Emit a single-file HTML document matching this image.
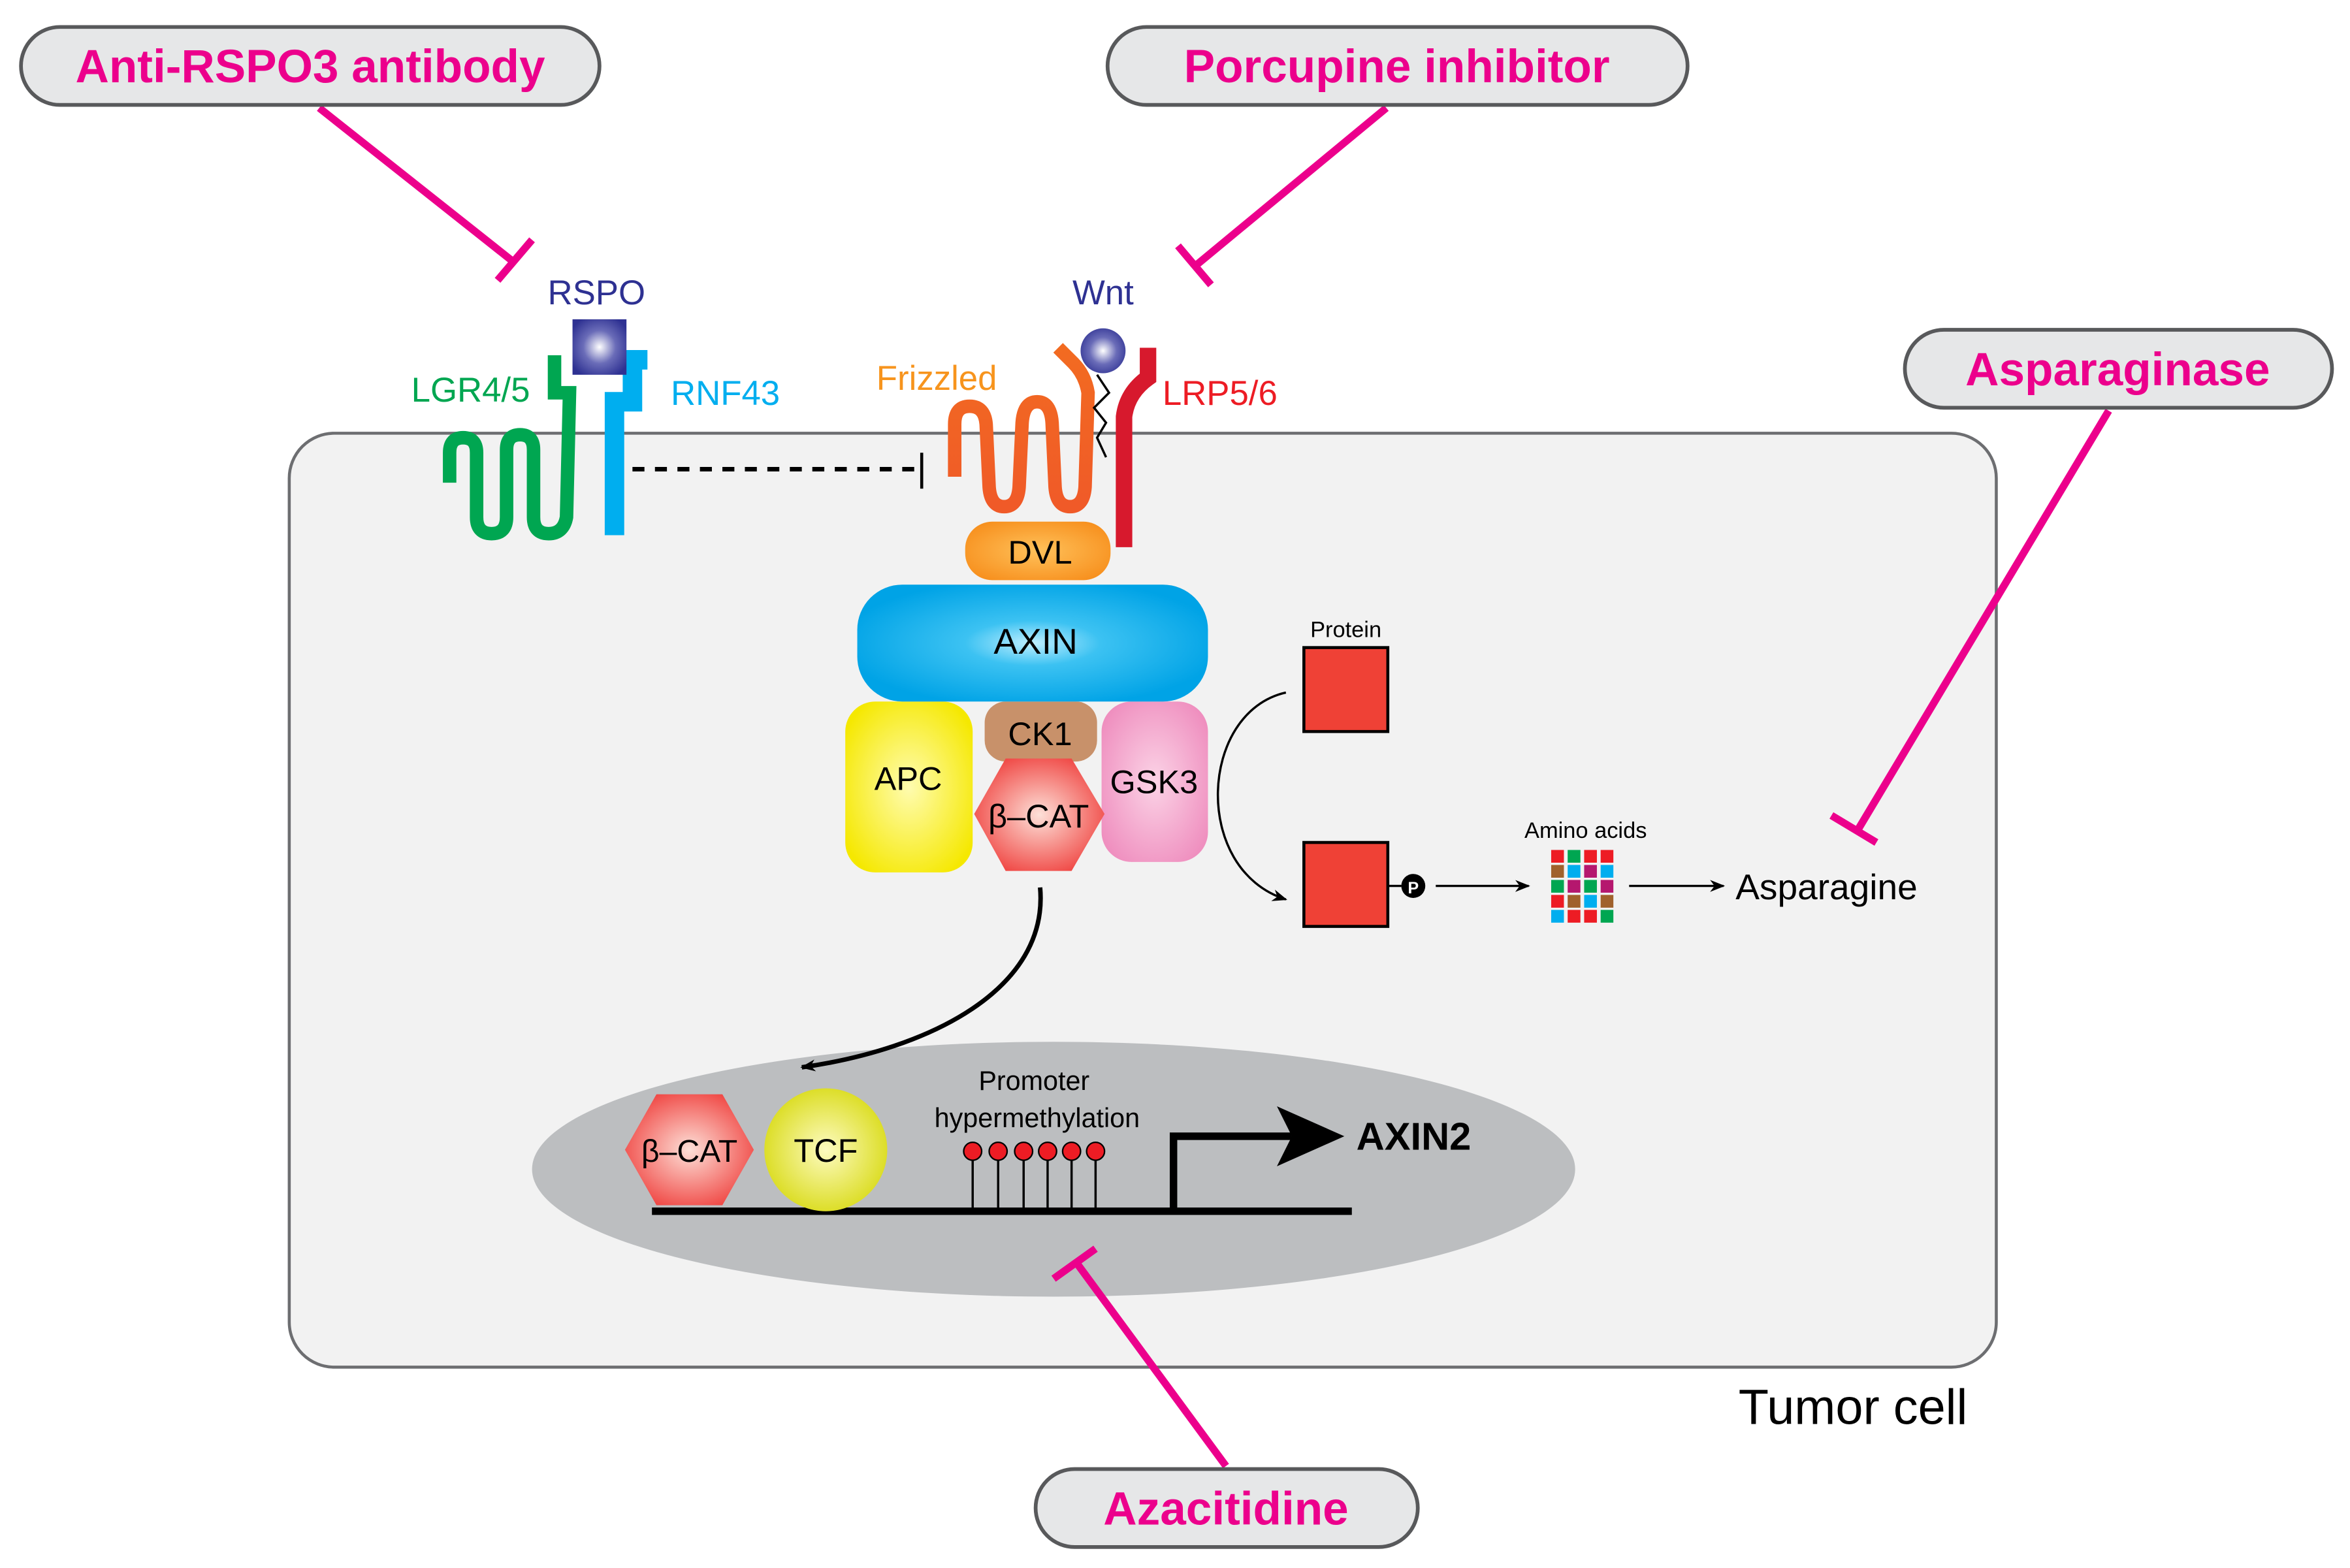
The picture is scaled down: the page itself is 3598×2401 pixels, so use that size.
<!DOCTYPE html>
<html><head><meta charset="utf-8"><style>html,body{margin:0;padding:0;background:#fff}svg{display:block}</style></head>
<body>
<svg width="3598" height="2401" viewBox="0 0 1568 1046" preserveAspectRatio="none" xmlns="http://www.w3.org/2000/svg" font-family="Liberation Sans, sans-serif">
<defs>
<radialGradient id="sq" cx="50%" cy="50%" r="60%"><stop offset="0" stop-color="#fff"/><stop offset="0.5" stop-color="#6a6cb8"/><stop offset="1" stop-color="#2e3192"/></radialGradient>
<radialGradient id="ax" cx="50%" cy="50%" r="55%"><stop offset="0" stop-color="#bfefff"/><stop offset="0.35" stop-color="#3cc2f2"/><stop offset="1" stop-color="#00a3e6"/></radialGradient>
<radialGradient id="dv" cx="50%" cy="50%" r="60%"><stop offset="0" stop-color="#ffc15a"/><stop offset="1" stop-color="#f7901e"/></radialGradient>
<radialGradient id="ap" cx="50%" cy="50%" r="60%"><stop offset="0" stop-color="#fffcb0"/><stop offset="1" stop-color="#f5e800"/></radialGradient>
<radialGradient id="gs" cx="50%" cy="50%" r="60%"><stop offset="0" stop-color="#fbd3e6"/><stop offset="1" stop-color="#ef8fbf"/></radialGradient>
<radialGradient id="bc" cx="50%" cy="50%" r="60%"><stop offset="0" stop-color="#fde0d8"/><stop offset="1" stop-color="#ef3d3a"/></radialGradient>
<radialGradient id="tc" cx="50%" cy="50%" r="60%"><stop offset="0" stop-color="#fdfbc0"/><stop offset="1" stop-color="#d6d80a"/></radialGradient>
<linearGradient id="fz" x1="0" x2="0" y1="0" y2="1"><stop offset="0" stop-color="#f26b21"/><stop offset="1" stop-color="#f05a28"/></linearGradient>
<marker id="ah" markerWidth="10" markerHeight="10" refX="9" refY="5" orient="auto" markerUnits="userSpaceOnUse"><path d="M0,1 L10,5 L0,9 L3,5z" fill="#000"/></marker>
</defs>
<rect x="193" y="289" width="1139" height="623" rx="30" fill="#f2f2f2" stroke="#6d6e71" stroke-width="2"/>
<text x="1160" y="950" font-size="33" fill="#000">Tumor cell</text>
<ellipse cx="703" cy="780" rx="348" ry="85" fill="#bcbec0"/>
<line x1="435" y1="808" x2="902" y2="808" stroke="#000" stroke-width="5"/>
<path d="M783,808 V758 H862" fill="none" stroke="#000" stroke-width="5"/>
<path d="M852,738 L897,758 L852,778 L862,758z" fill="#000"/>
<text x="905" y="767" font-size="26" font-weight="bold">AXIN2</text>
<g stroke="#000" stroke-width="1.5">
<line x1="649" y1="808" x2="649" y2="768"/><line x1="666" y1="808" x2="666" y2="768"/><line x1="683" y1="808" x2="683" y2="768"/><line x1="699" y1="808" x2="699" y2="768"/><line x1="715" y1="808" x2="715" y2="768"/><line x1="731" y1="808" x2="731" y2="768"/>
</g>
<g fill="#ed1c24" stroke="#000" stroke-width="1"><circle cx="649" cy="768" r="6"/><circle cx="666" cy="768" r="6"/><circle cx="683" cy="768" r="6"/><circle cx="699" cy="768" r="6"/><circle cx="715" cy="768" r="6"/><circle cx="731" cy="768" r="6"/></g>
<text x="690" y="727" font-size="18" text-anchor="middle">Promoter</text>
<text x="692" y="752" font-size="18" text-anchor="middle">hypermethylation</text>
<polygon points="417,767 438,730 482,730 503,767 482,804 438,804" fill="url(#bc)"/>
<text x="460" y="775" font-size="21" text-anchor="middle">β–CAT</text>
<circle cx="551" cy="767" r="41" fill="url(#tc)"/>
<text x="551" y="775" font-size="22" text-anchor="middle">TCF</text>
<rect x="564" y="468" width="85" height="114" rx="20" fill="url(#ap)"/>
<text x="606" y="527" font-size="22" text-anchor="middle">APC</text>
<rect x="735" y="468" width="71" height="107" rx="20" fill="url(#gs)"/>
<text x="770" y="529" font-size="22" text-anchor="middle">GSK3</text>
<rect x="657" y="468" width="75" height="40" rx="14" fill="#c8916a"/>
<text x="694" y="497" font-size="22" text-anchor="middle">CK1</text>
<polygon points="650,543 671,506 715,506 737,543 715,581 671,581" fill="url(#bc)"/>
<text x="693" y="552" font-size="22" text-anchor="middle">β–CAT</text>
<rect x="572" y="390" width="234" height="78" rx="30" fill="url(#ax)"/>
<text x="691" y="436" font-size="24" text-anchor="middle">AXIN</text>
<rect x="644" y="348" width="97" height="39" rx="18" fill="url(#dv)"/>
<text x="694" y="376" font-size="22" text-anchor="middle">DVL</text>
<path d="M694,592 C700,660 620,700 535,712" fill="none" stroke="#000" stroke-width="3" marker-end="url(#ah)"/>
<text x="898" y="425" font-size="15" text-anchor="middle">Protein</text>
<rect x="870" y="432" width="56" height="56" fill="#ef4136" stroke="#000" stroke-width="2"/>
<rect x="870" y="562" width="56" height="56" fill="#ef4136" stroke="#000" stroke-width="2"/>
<path d="M858,462 C800,475 795,580 858,600" fill="none" stroke="#000" stroke-width="1.5" marker-end="url(#ah)"/>
<line x1="926" y1="591" x2="935" y2="591" stroke="#000" stroke-width="1.5"/>
<circle cx="943" cy="591" r="8" fill="#000"/>
<text x="943" y="596" font-size="11" font-weight="bold" fill="#fff" text-anchor="middle">P</text>
<line x1="958" y1="591" x2="1020" y2="591" stroke="#000" stroke-width="1.5" marker-end="url(#ah)"/>
<text x="1058" y="559" font-size="15" text-anchor="middle">Amino acids</text>
<g>
<rect x="1035" y="567" width="8.5" height="8.5" fill="#ed1c24"/><rect x="1046" y="567" width="8.5" height="8.5" fill="#00a651"/><rect x="1057" y="567" width="8.5" height="8.5" fill="#ed1c24"/><rect x="1068" y="567" width="8.5" height="8.5" fill="#ed1c24"/>
<rect x="1035" y="577" width="8.5" height="8.5" fill="#a0612c"/><rect x="1046" y="577" width="8.5" height="8.5" fill="#00aeef"/><rect x="1057" y="577" width="8.5" height="8.5" fill="#b5176e"/><rect x="1068" y="577" width="8.5" height="8.5" fill="#00aeef"/>
<rect x="1035" y="587" width="8.5" height="8.5" fill="#00a651"/><rect x="1046" y="587" width="8.5" height="8.5" fill="#b5176e"/><rect x="1057" y="587" width="8.5" height="8.5" fill="#00a651"/><rect x="1068" y="587" width="8.5" height="8.5" fill="#b5176e"/>
<rect x="1035" y="597" width="8.5" height="8.5" fill="#ed1c24"/><rect x="1046" y="597" width="8.5" height="8.5" fill="#a0612c"/><rect x="1057" y="597" width="8.5" height="8.5" fill="#00aeef"/><rect x="1068" y="597" width="8.5" height="8.5" fill="#a0612c"/>
<rect x="1035" y="607" width="8.5" height="8.5" fill="#00aeef"/><rect x="1046" y="607" width="8.5" height="8.5" fill="#ed1c24"/><rect x="1057" y="607" width="8.5" height="8.5" fill="#ed1c24"/><rect x="1068" y="607" width="8.5" height="8.5" fill="#00a651"/>
</g>
<line x1="1087" y1="591" x2="1150" y2="591" stroke="#000" stroke-width="1.5" marker-end="url(#ah)"/>
<text x="1158" y="600" font-size="24">Asparagine</text>
<!-- LGR / RNF43 -->
<path d="M300,322 V302 Q300,292 309,292 Q318,292 318,302 V345 Q318,356 328,356 Q338,356 338,345 V300 Q338,290 347,290 Q356,290 356,300 V345 Q356,356 366,356 Q376,356 378,345 L380,262 H370 V237" fill="none" stroke="#00a651" stroke-width="9"/>
<path d="M410,357 V268 H422 V240 H432" fill="none" stroke="#00aeef" stroke-width="13"/>
<rect x="382" y="213" width="36" height="37" fill="url(#sq)"/>
<line x1="422" y1="313" x2="612" y2="313" stroke="#000" stroke-width="3" stroke-dasharray="8,7"/>
<line x1="615" y1="302" x2="615" y2="326" stroke="#000" stroke-width="2"/>
<!-- Frizzled / LRP -->
<path d="M637,318 V283 Q637,271 647,271 Q657,271 658,283 L660,325 Q661,338 670,338 Q679,338 680,325 L682,282 Q683,268 692,268 Q701,268 702,282 L704,325 Q705,338 714,338 Q723,338 724,325 L726,262 Q724,250 716,242 L706,232" fill="none" stroke="url(#fz)" stroke-width="9"/>
<path d="M766,232 V252 Q752,262 750,278 V365" fill="none" stroke="#d7192d" stroke-width="11"/>
<path d="M732,250 L740,262 L730,272 L738,282 L732,292 L738,305" fill="none" stroke="#000" stroke-width="1.5"/>
<circle cx="736" cy="234" r="15" fill="url(#sq)"/>
<text x="398" y="203" font-size="23" fill="#2e3192" text-anchor="middle">RSPO</text>
<text x="736" y="203" font-size="23" fill="#2e3192" text-anchor="middle">Wnt</text>
<text x="314" y="268" font-size="23" fill="#00a651" text-anchor="middle">LGR4/5</text>
<text x="484" y="270" font-size="23" fill="#00aeef" text-anchor="middle">RNF43</text>
<text x="625" y="260" font-size="23" fill="#f7941d" text-anchor="middle">Frizzled</text>
<text x="814" y="270" font-size="23" fill="#ed1c24" text-anchor="middle">LRP5/6</text>
<g stroke="#ec008c" stroke-width="5" fill="none">
<line x1="213" y1="72" x2="343" y2="175"/><line x1="332" y1="187" x2="355" y2="160"/>
<line x1="925" y1="72" x2="798" y2="177"/><line x1="786" y1="164" x2="808" y2="190"/>
<line x1="1407" y1="274" x2="1240" y2="553"/><line x1="1222" y1="544" x2="1252" y2="562"/>
<line x1="818" y1="978" x2="718" y2="842"/><line x1="703" y1="853" x2="731" y2="833"/>
</g>
<g fill="#e6e7e8" stroke="#58595b" stroke-width="2.5">
<rect x="14" y="18" width="386" height="52" rx="26"/>
<rect x="739" y="18" width="387" height="52" rx="26"/>
<rect x="1271" y="220" width="285" height="52" rx="26"/>
<rect x="691" y="980" width="255" height="52" rx="26"/>
</g>
<g fill="#ec008c" font-size="31" font-weight="bold" text-anchor="middle">
<text x="207" y="55">Anti-RSPO3 antibody</text>
<text x="932" y="55">Porcupine inhibitor</text>
<text x="1413" y="257">Asparaginase</text>
<text x="818" y="1017">Azacitidine</text>
</g>
</svg>
</body></html>
